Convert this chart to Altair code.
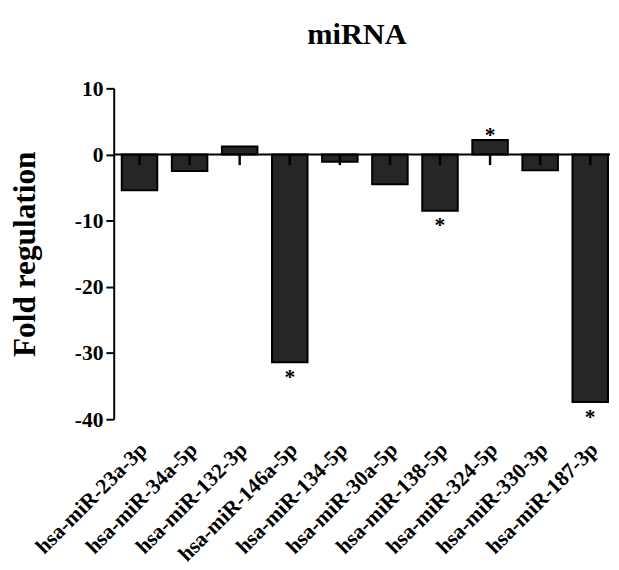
import altair as alt
import pandas as pd

names = ["hsa-miR-23a-3p", "hsa-miR-34a-5p", "hsa-miR-132-3p", "hsa-miR-146a-5p",
         "hsa-miR-134-5p", "hsa-miR-30a-5p", "hsa-miR-138-5p", "hsa-miR-324-5p",
         "hsa-miR-330-3p", "hsa-miR-187-3p"]
fold = [-5.4, -2.5, 1.2, -31.4, -1.1, -4.5, -8.5, 2.2, -2.4, -37.4]
err = [1.6, 1.6, 1.6, 1.6, 1.6, 1.6, 1.6, 1.6, 1.6, 1.6]
sig = ["", "", "", "*", "", "", "*", "*", "", "*"]
y_ticks = [10, 0, -10, -20, -30, -40]

df = pd.DataFrame({"name": names, "fold": fold, "err_end": [-e for e in err], "sig": sig})
df["zero"] = 0

FONT = "Liberation Serif"

x_enc = alt.X("name:N", sort=names,
              scale=alt.Scale(paddingInner=0.29, paddingOuter=0.1, align=0.8),
              axis=alt.Axis(title=None, domain=False, ticks=False, labelAngle=-45,
                            labelAlign="right", labelBaseline="middle",
                            labelFont=FONT, labelFontWeight="bold", labelFontSize=22,
                            labelPadding=27, labelOffset=4, labelColor="black"))
y_scale = alt.Scale(domain=[-40, 10], nice=False, zero=False)

base = alt.Chart(df)

bars = base.mark_bar(color="#262626", stroke="black", strokeWidth=2).encode(
    x=x_enc,
    y=alt.Y("fold:Q", scale=y_scale,
            axis=alt.Axis(title="Fold regulation", values=y_ticks, grid=False,
                          labelExpr="datum.value < 0 ? '-' + abs(datum.value) : '' + datum.value",
                          domainColor="black", domainWidth=2, tickColor="black",
                          tickWidth=2, tickSize=8, labelFont=FONT, labelFontWeight="bold",
                          labelFontSize=22, labelColor="black", labelPadding=3,
                          titleFont=FONT, titleFontWeight="bold", titleFontSize=32,
                          titleColor="black", titlePadding=34)),
    y2="zero:Q",
)

errs = base.mark_rule(color="black", strokeWidth=2.5).encode(
    x=alt.X("name:N", sort=names),
    y=alt.Y("zero:Q", scale=y_scale),
    y2="err_end:Q",
)

zero_line = alt.Chart(pd.DataFrame({"v": [0]})).mark_rule(color="black", strokeWidth=2).encode(
    y=alt.Y("v:Q", scale=y_scale)
)

stars_down = base.transform_filter("datum.sig != '' && datum.fold < 0").mark_text(
    font=FONT, fontWeight="bold", fontSize=22, baseline="middle", dy=15, color="black"
).encode(x=alt.X("name:N", sort=names), y=alt.Y("fold:Q", scale=y_scale), text="sig:N")

stars_up = base.transform_filter("datum.sig != '' && datum.fold > 0").mark_text(
    font=FONT, fontWeight="bold", fontSize=22, baseline="middle", dy=-5, color="black"
).encode(x=alt.X("name:N", sort=names), y=alt.Y("fold:Q", scale=y_scale), text="sig:N")

chart = alt.layer(bars, errs, zero_line, stars_down, stars_up).properties(
    width=507, height=338,
    title=alt.TitleParams("miRNA", font=FONT, fontWeight="bold", fontSize=31,
                          color="black", offset=27, anchor="middle", dx=-5),
    padding={"left": 0, "top": 6, "right": 0, "bottom": 0},
).configure_view(stroke=None)

chart.save("out.html", embed_options={"renderer": "svg", "actions": False})
